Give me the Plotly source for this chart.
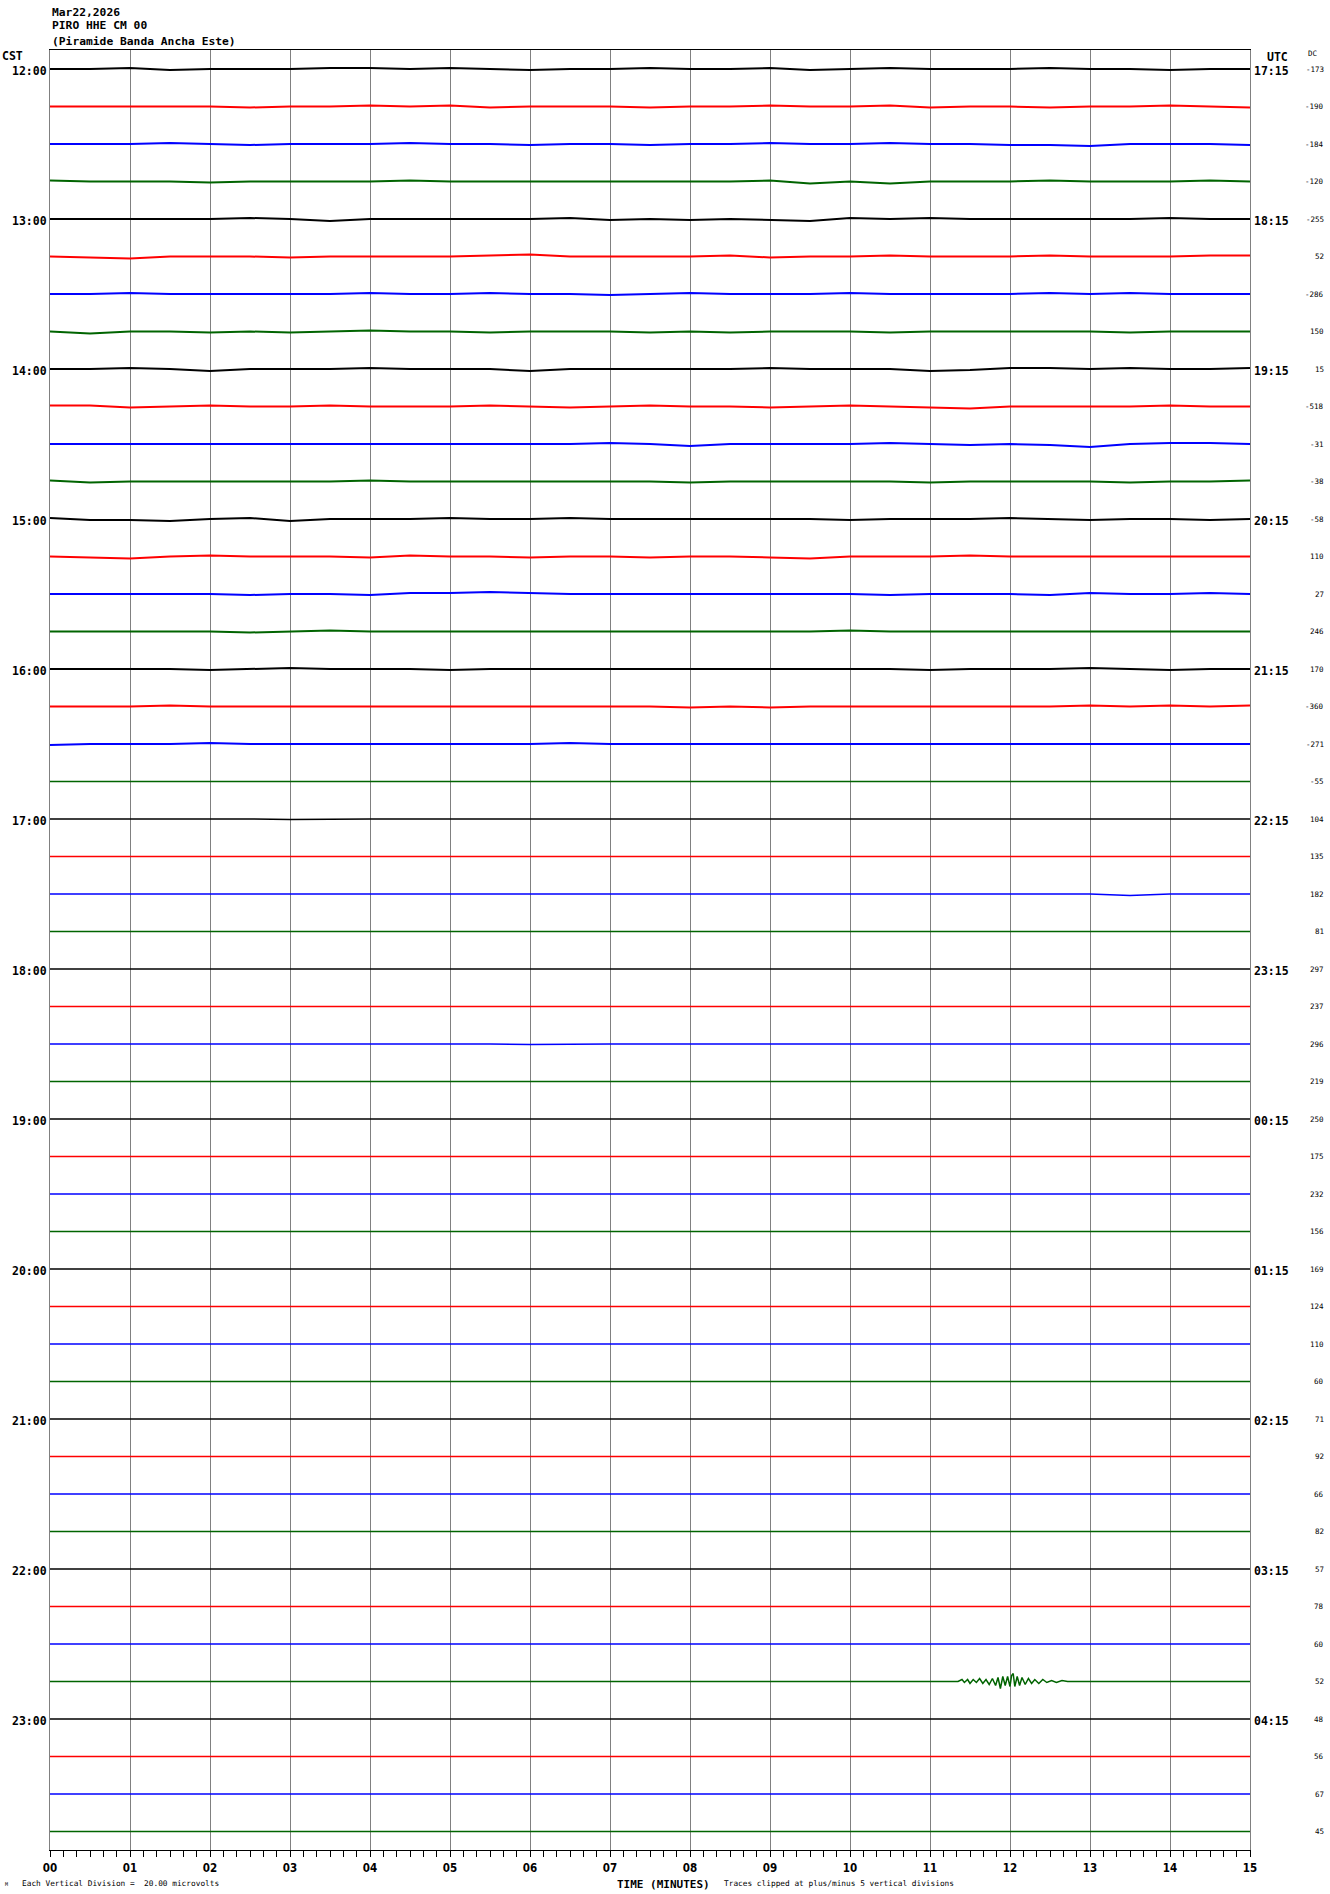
import plotly.graph_objects as go

# ---------------- data ----------------
header_lines = ["Mar22,2026", "PIRO HHE CM 00", "(Piramide Banda Ancha Este)"]

cst_labels = ["12:00", "13:00", "14:00", "15:00", "16:00", "17:00",
              "18:00", "19:00", "20:00", "21:00", "22:00", "23:00"]
utc_labels = ["17:15", "18:15", "19:15", "20:15", "21:15", "22:15",
              "23:15", "00:15", "01:15", "02:15", "03:15", "04:15"]

dc_values = [-173, -190, -184, -120, -255, 52, -286, 150, 15, -518, -31, -38,
             -58, 110, 27, 246, 170, -360, -271, -55, 104, 135, 182, 81,
             297, 237, 296, 219, 250, 175, 232, 156, 169, 124, 110, 60,
             71, 92, 66, 82, 57, 78, 60, 52, 48, 56, 67, 45]

tick_labels = ["00", "01", "02", "03", "04", "05", "06", "07",
               "08", "09", "10", "11", "12", "13", "14", "15"]

# sample times (minutes) of the coarse trace readings
sample_minutes = [0, 0.5, 1, 1.5, 2, 2.5, 3, 3.5, 4, 4.5, 5, 5.5, 6, 6.5, 7, 7.5,
                  8, 8.5, 9, 9.5, 10, 10.5, 11, 11.5, 12, 12.5, 13, 13.5, 14, 14.5, 15]

# estimated trace deflections (pixels, up positive), one list per 15-minute line
trace_offsets = [
    [0,0,1,-1,0, 0,0,1,1,0, 1,0,-1,0,0, 1,0,0,1,-1, 0,1,0,0,0, 1,0,0,-1,0, 0],
    [0,0,0,0,0, -1,0,0,1,0, 1,-1,0,0,0, -1,0,0,1,0, 0,1,-1,0,0, -1,0,0,1,0, -1],
    [0,0,0,1,0, -1,0,0,0,1, 0,0,-1,0,0, -1,0,0,1,0, 0,1,0,0,-1, -1,-2,0,0,0, -1],
    [1,0,0,0,-1, 0,0,0,0,1, 0,0,0,0,0, 0,0,0,1,-2, 0,-2,0,0,0, 1,0,0,0,1, 0],
    [0,0,0,0,0, 1,0,-2,0,0, 0,0,0,1,-1, 0,-1,0,-1,-2, 1,0,1,0,0, 0,0,0,1,0, 0],
    [0,-1,-2,0,0, 0,-1,0,0,0, 0,1,2,0,0, 0,0,1,-1,0, 0,1,0,0,0, 1,0,0,0,1, 1],
    [0,0,1,0,0, 0,0,0,1,0, 0,1,0,0,-1, 0,1,0,0,0, 1,0,0,0,0, 1,0,1,0,0, 0],
    [0,-2,0,0,-1, 0,-1,0,1,0, 0,-1,0,0,0, -1,0,-1,0,0, 0,-1,0,0,0, 0,0,-1,0,0, 0],
    [0,0,1,0,-2, 0,0,0,1,0, 0,0,-2,0,0, 0,0,0,1,0, 0,0,-2,-1,1, 1,0,1,0,0, 1],
    [1,1,-1,0,1, 0,0,1,0,0, 0,1,0,-1,0, 1,0,0,-1,0, 1,0,-1,-2,0, 0,0,0,1,0, 0],
    [0,0,0,0,0, 0,0,0,0,0, 0,0,0,0,1, 0,-2,0,0,0, 0,1,0,-1,0, -1,-3,0,1,1, 0],
    [1,-1,0,0,0, 0,0,0,1,0, 0,0,0,0,0, 0,-1,0,0,0, 0,0,-1,0,0, 0,0,-1,0,0, 1],
    [1,-1,-1,-2,0, 1,-2,0,0,0, 1,0,0,1,0, 0,0,0,0,0, -1,0,0,0,1, 0,-1,0,0,-1, 0],
    [0,-1,-2,0,1, 0,0,0,-1,1, 0,0,-1,0,0, -1,0,0,-1,-2, 0,0,0,1,0, 0,0,0,0,0, 0],
    [0,0,0,0,0, -1,0,0,-1,1, 1,2,1,0,0, 0,0,0,0,0, 0,-1,0,0,0, -1,1,0,0,1, 0],
    [0,0,0,0,0, -1,0,1,0,0, 0,0,0,0,0, 0,0,0,0,0, 1,0,0,0,0, 0,0,0,0,0, 0],
    [0,0,0,0,-1, 0,1,0,0,0, -1,0,0,0,0, 0,0,0,0,0, 0,0,-1,0,0, 0,1,0,-1,0, 0],
    [0,0,0,1,0, 0,0,0,0,0, 0,0,0,0,0, 0,-1,0,-1,0, 0,0,0,0,0, 0,1,0,1,0, 1],
    [-1,0,0,0,1, 0,0,0,0,0, 0,0,0,1,0, 0,0,0,0,0, 0,0,0,0,0, 0,0,0,0,0, 0],
    [0,0,0,0,0, 0,0,0,0,0, 0,0,0,0,0, 0,0,0,0,0, 0,0,0,0,0, 0,-0.5,0,0,0, 0],
    [0,0,0.5,0,0, 0,-0.5,0,0,0, 0,0,0,0,0, 0,-0.5,0,0,0, 0,0,0,0,0, 0,0,0,0,0, 0],
    [0,0,0,0,0, 0,0,0,0,0, 0,0,0,0,0, 0,0,0,0,0, 0,0,0,0,0, 0,0,0,0,0, 0],
    [0,0,0,0,0, 0,0,0,0,0, 0,0,0,0,0, 0,0,0,0,0, 0,0,0,0,0, 0,0,-1.5,0,0, 0],
    [0,0,0,0,0.5, 0,0,0,0,0, 0,0,0,0,0, 0,0,0,0,0, 0,0,0,0,0, 0,0,0,0,0, 0],
    [0,0,0,0,0, 0,0,0,0,0, 0,0,0,0,0, 0,0,0,0,0, 0,0,0,0,0, 0,0,0,0,0, 0],
    [0,0,0,0,0, 0,0,0,0,0, 0,0,0,0,0, 0,0,0,0,0, 0,0,0,0,0, -0.5,0,0,0,0, 0],
    [0,0,0.5,0,0, 0,0,0,0,0, 0,0,-0.5,0,0, 0,0,0,0,0, 0,0,0,0,0, 0,0,0,0,0, 0],
    [0,0,0,0,0, 0,0,0,0,0, 0,0,0,0,0, 0,0,0,0,0, 0,0,0,0,0, 0,0,0,0,0.5, 0],
    [0,0,0,0,0, 0,0,0,0,0, 0,0,0,0,0, 0,0,0,0,0, 0,0,0,0,0, 0,0,0,0,0, 0],
    [0,0,0,0,0, 0,0,0,0,0, 0,0,0,0,0, 0,0,0,0,0, 0,0,0,0,0, 0,0,0,0,0, 0],
    [0,0,0,0,0, 0,0,0,0,0, 0,0,0,0,0, 0,0,0,0,0, 0,0,0,0,0, 0,0,0,0,0, 0],
    [0,0,0,0,0, 0,0,0,0,0, 0,0,0,0,0, 0,0,0,0,0, 0,0,0,0,0, 0,0,0,0,0, 0],
    [0,0,0,0,0, 0,0,0,0,0, 0,0,0,0,0, 0,0,0,0,0, 0,0,0,0,0, 0,0,0,0,0, 0],
    [0,0,0,0,0, 0,0,0,0,0, 0,0,0,0,0, 0,0,0,0,0, 0,0,0,0,0, 0,0,0,0,0, 0],
    [0,0,0,0,0, 0,0,0,0,0, 0,0,0,0,0, 0,0,0,0,0, 0,0,0,0,0, 0,0,0,0,0, 0],
    [0,0,0,0,0, 0,0,0,0,0, 0,0,0,0,0, 0,0,0,0,0, 0,0,0,0,0, 0,0,0,0,0, 0],
    [0,0,0,0,0, 0,0,0,0,0, 0,0,0,0,0, 0,0,0,0,0, 0,0,0,0,0, 0,0,0,0,0, 0],
    [0,0,0,0,0, 0,0,0,0,0, 0,0,0,0,0, 0,0,0,0,0, 0,0,0,0,0, 0,0,0,0,0, 0],
    [0,0,0,0,0, 0,0,0,0,0, 0,0,0,0,0, 0,0,0,0,0, 0,0,0,0,0, 0,0,0,0,0, 0],
    [0,0,0,0,0, 0,0,0,0,0, 0,0,0,0,0, 0,0,0,0,0, 0,0,0,0,0, 0,0,0,0,0, 0],
    [0,0,0,0,0, 0,0,0,0,0, 0,0,0,0,0, 0,0,0,0,0, 0,0,0,0,0, 0,0,0,0,0, 0],
    [0,0,0,0,0, 0,0,0,0,0, 0,0,0,0,0, 0,0,0,0,0, 0,0,0,0,0, 0,0,0,0,0, 0],
    [0,0,0,0,0, 0,0,0,0,0, 0,0,0,0,0, 0,0,0,0,0, 0,0,0,0,0, 0,0,0,0,0, 0],
    [0,0,0,0,0, 0,0,0,0,0, 0,0,0,0,0, 0,0,0,0,0, 0,0,0,0,0, 0,0,0,0,0, 0],
    [0,0,0,0,0, 0,0,0,0,0, 0,0,0,0,0, 0,0,0,0,0, 0,0,0,0,0, 0,0,0,0,0, 0],
    [0,0,0,0,0, 0,0,0,0,0, 0,0,0,0,0, 0,0,0,0,0, 0,0,0,0,0, 0,0,0,0,0, 0],
    [0,0,0,0,0, 0,0,0,0,0, 0,0,0,0,0, 0,0,0,0,0, 0,0,0,0,0, 0,0,0,0,0, 0],
    [0,0,0,0,0, 0,0,0,0,0, 0,0,0,0,0, 0,0,0,0,0, 0,0,0,0,0, 0,0,0,0,0, 0],
]

# local event recorded on the 22:45 line (line index 43)
event_line = 43
event_minutes = [11.35, 11.40, 11.43, 11.47, 11.50, 11.54, 11.58, 11.62, 11.66, 11.70,
                 11.74, 11.78, 11.82, 11.85, 11.88, 11.91, 11.94, 11.97, 12.00, 12.02,
                 12.04, 12.06, 12.09, 12.12, 12.15, 12.19, 12.23, 12.27, 12.31, 12.36,
                 12.41, 12.46, 12.52, 12.58, 12.65, 12.72, 12.80]
event_offsets = [0, 2, -1, 2, -2, 2, -1, 3, -2, 2,
                 -3, 3, -4, 4, -7, 5, -4, 5, -5, 6,
                 8, -5, 5, -4, 4, -3, 3, -2, 2, -2,
                 2, -1, 1, -1, 1, 0, 0]

# ---------------- styling / layout ----------------
W, H = 1330, 1894
PL, PR, PT, PB = 50, 1250, 50, 1850          # plot area in pixels
LINE_GAP = 37.5                                # pixels between trace lines
Y_TOP, Y_BOT = 19.0, -(PB - PT - 19.0)          # y range (1 unit = 1 px)
colors = ["#000000", "#ff0000", "#0000ff", "#006400"]
MONO = "DejaVu Sans Mono"
NARROW = "Liberation Sans Narrow, DejaVu Sans Condensed, DejaVu Sans"


def px_x(p):
    return (p - PL) / (PR - PL)


def px_y(p):
    return (PB - p) / (PB - PT)


fig = go.Figure()

for i, offs in enumerate(trace_offsets):
    xs = list(sample_minutes)
    vs = list(offs)
    if i == event_line:
        pts = [(t, v) for t, v in zip(sample_minutes, offs)
               if t < event_minutes[0] or t > event_minutes[-1]]
        pts += list(zip(event_minutes, event_offsets))
        pts.sort()
        xs = [p[0] for p in pts]
        vs = [p[1] for p in pts]
    base = -i * LINE_GAP
    fig.add_trace(go.Scatter(
        x=xs, y=[base + v for v in vs], mode="lines",
        line=dict(color=colors[i % 4], width=2.0 if i < 19 else 1.5),
        hoverinfo="skip", showlegend=False))

ann = []
for k, t in enumerate(header_lines):
    ann.append(dict(text=t, x=px_x(50), y=px_y([12.5, 25.5, 41][k]), xref="paper", yref="paper",
                    xanchor="left", yanchor="middle", showarrow=False,
                    font=dict(family=MONO, size=11.3, color="black", weight="bold")))
ann.append(dict(text="CST", x=px_x(0), y=px_y(56), xref="paper", yref="paper",
                xanchor="left", yanchor="middle", showarrow=False,
                font=dict(family=MONO, size=11.5, color="black", weight="bold")))
ann.append(dict(text="UTC", x=px_x(1265), y=px_y(56.5), xref="paper", yref="paper",
                xanchor="left", yanchor="middle", showarrow=False,
                font=dict(family=MONO, size=11.5, color="black", weight="bold")))
ann.append(dict(text="DC", x=px_x(1306), y=px_y(53), xref="paper", yref="paper",
                xanchor="left", yanchor="middle", showarrow=False,
                font=dict(family=MONO, size=7.5, color="black")))

for k, lab in enumerate(cst_labels):
    ann.append(dict(text=lab, x=px_x(49), y=-(4 * k) * LINE_GAP, xref="paper", yref="y",
                    xanchor="right", yanchor="middle", yshift=-2, showarrow=False,
                    font=dict(family=MONO, size=11.5, color="black", weight="bold")))
for k, lab in enumerate(utc_labels):
    ann.append(dict(text=lab, x=px_x(1252), y=-(4 * k) * LINE_GAP, xref="paper", yref="y",
                    xanchor="left", yanchor="middle", yshift=-2, showarrow=False,
                    font=dict(family=MONO, size=11.5, color="black", weight="bold")))
for i, dc in enumerate(dc_values):
    ann.append(dict(text=str(dc), x=px_x(1326), y=-i * LINE_GAP, xref="paper", yref="y",
                    xanchor="right", yanchor="middle", showarrow=False,
                    font=dict(family=MONO, size=7.5, color="black")))

ann.append(dict(text="TIME (MINUTES)", x=px_x(663), y=px_y(1884), xref="paper", yref="paper",
                xanchor="center", yanchor="middle", showarrow=False,
                font=dict(family=MONO, size=11, color="black", weight="bold")))
ann.append(dict(text="Each Vertical Division =  20.00 microvolts", x=px_x(20), y=px_y(1883),
                xref="paper", yref="paper", xanchor="left", yanchor="middle", showarrow=False,
                font=dict(family=MONO, size=7.8, color="black")))
ann.append(dict(text="Traces clipped at plus/minus 5 vertical divisions", x=px_x(722), y=px_y(1883),
                xref="paper", yref="paper", xanchor="left", yanchor="middle", showarrow=False,
                font=dict(family=MONO, size=7.8, color="black")))
ann.append(dict(text="M", x=px_x(3), y=px_y(1884), xref="paper", yref="paper",
                xanchor="left", yanchor="middle", showarrow=False,
                font=dict(family=MONO, size=5, color="black")))

fig.update_layout(
    width=W, height=H, autosize=False,
    margin=dict(l=PL, r=W - PR, t=PT, b=H - PB, pad=0),
    paper_bgcolor="white", plot_bgcolor="white",
    annotations=ann,
    xaxis=dict(range=[0, 15], tickmode="array", tickvals=list(range(16)), ticktext=tick_labels,
               showgrid=True, gridcolor="#808080", gridwidth=1, zeroline=False,
               showline=True, linecolor="black", linewidth=1, mirror=True,
               ticks="outside", ticklen=6, tickwidth=1, tickcolor="black",
               ticklabelstandoff=1,
               tickfont=dict(family=NARROW, size=11.5, color="black", weight="bold"),
               minor=dict(dtick=1 / 6, ticks="outside", ticklen=6, tickwidth=1,
                          tickcolor="black", showgrid=False),
               fixedrange=True),
    yaxis=dict(range=[Y_BOT, Y_TOP], showgrid=False, zeroline=False, showticklabels=False,
               ticks="", showline=True, linecolor="#808080", linewidth=1, mirror=True,
               fixedrange=True),
)

fig.write_html("out.html", config={"displayModeBar": False, "staticPlot": True},
               post_script="document.body.style.margin='0';document.body.style.overflow='hidden';")
